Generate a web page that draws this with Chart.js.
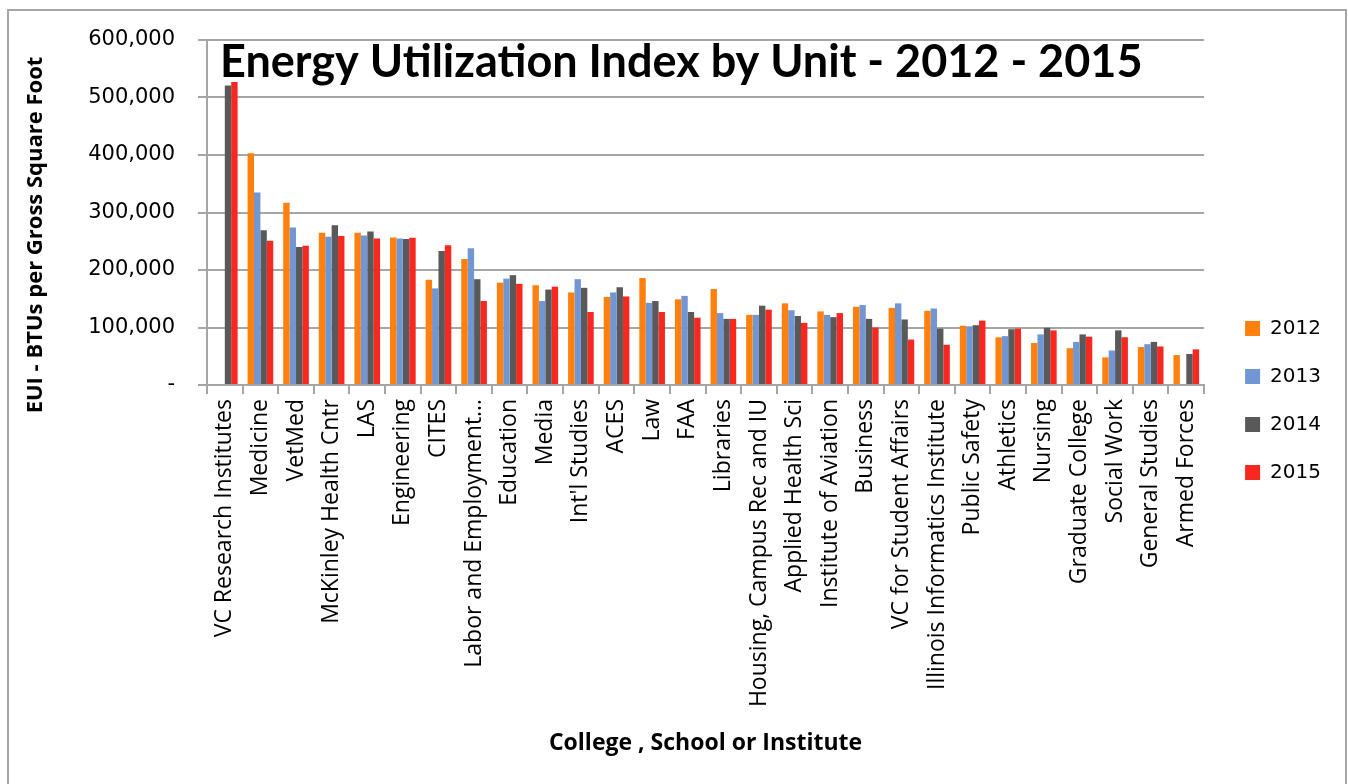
<!DOCTYPE html>
<html>
<head>
<meta charset="utf-8">
<script src="https://cdn.jsdelivr.net/npm/chart.js@4.4.1/dist/chart.umd.min.js"></script>
<style>
html,body{margin:0;padding:0;background:#fff;}
#wrap{position:relative;width:1348px;height:784px;}
</style>
</head>
<body>
<div id="wrap"><canvas id="c" width="1348" height="784"></canvas></div>
<script>
const categories = ["VC Research Institutes","Medicine","VetMed","McKinley Health Cntr","LAS","Engineering","CITES","Labor and Employment\u2026","Education","Media","Int'l Studies","ACES","Law","FAA","Libraries","Housing, Campus Rec and IU","Applied Health Sci","Institute of Aviation","Business","VC for Student Affairs","Illinois Informatics Institute","Public Safety","Athletics","Nursing","Graduate College","Social Work","General Studies","Armed Forces"];
const seriesNames = ["2012","2013","2014","2015"];
const values2012 = [null,403000,317000,265000,265000,256500,183000,219000,178000,173500,161000,153000,186000,149000,167000,122000,142000,128000,136000,134000,129000,103000,83000,73000,64000,48000,66000,52000];
const values2013 = [null,335000,274000,258000,260000,255000,168000,238000,185000,146000,184000,161000,143000,155000,125000,122000,130000,122000,139000,142000,133000,102000,85000,88000,75000,60000,71000,null];
const values2014 = [521000,269000,240000,278000,267000,254000,233000,184000,191000,166000,169000,170000,146000,127000,115000,138000,120000,118000,115000,114000,98000,104000,97000,99500,88000,95000,75000,54000];
const values2015 = [527000,251000,242000,259000,255000,256000,243000,146000,176000,171000,127000,154000,127000,117000,115000,131000,108000,125000,100000,79000,70000,112000,98000,95000,84000,83000,67000,62000];
const yTickLabels = ["-","100,000","200,000","300,000","400,000","500,000","600,000"];
const chartTitle = "Energy Utilization Index by Unit - 2012 - 2015";
const xTitle = "College , School or Institute";
const yTitle = "EUI - BTUs per Gross Square Foot";

const colors = ["#FF7F0F","#7097D3","#595959","#F8271F"];
const allValues = [values2012, values2013, values2014, values2015];

const frameAndTitle = {
  id: 'frameAndTitle',
  afterLayout(chart){
    const lg = chart.legend;
    if (lg) {
      lg.left += 13; lg.right += 13;
      lg.top -= 11.5; lg.bottom -= 11.5;
    }
  },
  beforeDraw(chart){
    const ctx = chart.ctx;
    ctx.save();
    ctx.fillStyle = '#fff';
    ctx.fillRect(0,0,chart.width,chart.height);
    ctx.strokeStyle = '#a6a6a6';
    ctx.lineWidth = 2;
    ctx.strokeRect(8, 10, 1338, 800);
    ctx.restore();
  },
  afterDraw(chart){
    const ctx = chart.ctx;
    ctx.save();
    ctx.font = "bold 45px Lato";
    ctx.fillStyle = '#000';
    ctx.textBaseline = 'alphabetic';
    ctx.textAlign = 'left';
    ctx.fillText(chartTitle, chart.chartArea.left + 13, 77);
    ctx.translate(36, 235);
    ctx.rotate(-Math.PI/2);
    ctx.font = "bold 22px 'Open Sans'";
    ctx.textAlign = 'center';
    ctx.textBaseline = 'middle';
    ctx.fillText(yTitle, 0, 0);
    ctx.restore();
  }
};

new Chart(document.getElementById('c'), {
  type: 'bar',
  data: {
    labels: categories,
    datasets: seriesNames.map((n,i)=>({
      label: n,
      data: allValues[i],
      backgroundColor: colors[i],
      borderWidth: 0,
      categoryPercentage: 0.72,
      barPercentage: 1.0
    }))
  },
  options: {
    responsive: false,
    animation: false,
    layout: { padding: { left: 8, top: 40, right: 30, bottom: 0 } },
    plugins: {
      legend: {
        position: 'right',
        labels: {
          boxWidth: 15, boxHeight: 15,
          padding: 28,
          color: '#000',
          font: { family: 'DejaVu Sans', size: 20 }
        }
      },
      title: { display: false },
      tooltip: { enabled: false }
    },
    scales: {
      x: {
        grid: { display: true, drawOnChartArea: false, drawTicks: true, tickLength: 9, color: '#a6a6a6', lineWidth: 2, offset: true },
        border: { color: '#a6a6a6', width: 2 },
        ticks: { color: '#000', minRotation: 90, maxRotation: 90, autoSkip: false, padding: 5, font: { family: 'Open Sans', size: 23 } },
        title: { display: true, text: xTitle, color: '#000', font: { family: 'Open Sans', size: 23, weight: 'bold' }, padding: { top: 0, bottom: 27 } },
        afterFit(scale){ scale.height = 399; }
      },
      y: {
        min: 0, max: 600000,
        grid: { color: '#a6a6a6', lineWidth: 2, tickLength: 9 },
        border: { color: '#a6a6a6', width: 2 },
        ticks: {
          stepSize: 100000,
          color: '#000',
          padding: 23,
          font: { family: 'DejaVu Sans', size: 21 },
          callback: (v)=> yTickLabels[Math.round(v/100000)]
        },
        title: { display: false },
        afterFit(scale){ scale.width = 199; }
      }
    }
  },
  plugins: [frameAndTitle]
});
</script>
</body>
</html>
